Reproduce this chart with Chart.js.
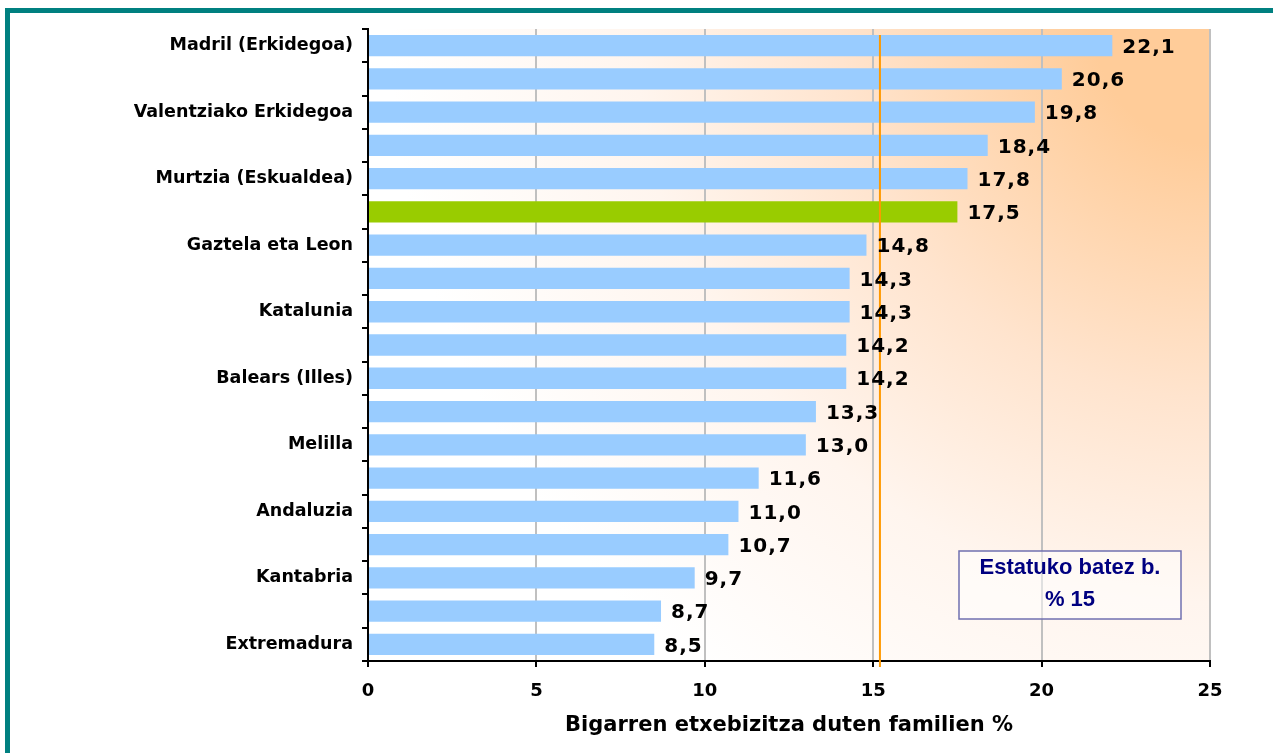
<!DOCTYPE html>
<html>
<head>
<meta charset="utf-8">
<script src="https://cdn.jsdelivr.net/npm/chart.js@4"></script>
<style>
    html, body { margin: 0; padding: 0; background: #fff; overflow: hidden; }
    #frame {
        position: absolute; left: 5px; top: 8px;
        width: 1400px; height: 900px;
        border: 5px solid #008080;
    }
    #wrap { position: absolute; left: 0; top: 0; width: 1273px; height: 753px; }
</style>
</head>
<body>
<div id="frame"></div>
<div id="wrap"><canvas id="chart-bigarren"></canvas></div>
<script>
const categories = [
    "Madril (Erkidegoa)", "", "Valentziako Erkidegoa", "", "Murtzia (Eskualdea)", "",
    "Gaztela eta Leon", "", "Katalunia", "", "Balears (Illes)", "", "Melilla", "",
    "Andaluzia", "", "Kantabria", "", "Extremadura"
];
const values = [22.1, 20.6, 19.8, 18.4, 17.8, 17.5, 14.8, 14.3, 14.3, 14.2, 14.2, 13.3, 13.0, 11.6, 11.0, 10.7, 9.7, 8.7, 8.5];
const highlightIndex = 5;
const meanValue = 15.2;
const xTicks = [0, 5, 10, 15, 20, 25];
const boxLines = ["Estatuko batez b.", "% 15"];

const blue = "#99CCFF";
const green = "#99CC00";

const barColors = values.map((v, i) => i === highlightIndex ? green : blue);

// fondo degradado del area del grafico
const backgroundPlugin = {
    id: "background",
    beforeDraw(chart) {
        const { ctx, chartArea: a } = chart;
        const g = ctx.createRadialGradient(a.right, a.top, 0, a.right, a.top, 820);
        g.addColorStop(0, "#FFCC99");
        g.addColorStop(0.14, "#FFCC99");
        g.addColorStop(0.45, "#FFE4CE");
        g.addColorStop(0.7, "#FFF5EE");
        g.addColorStop(1, "#FFFFFF");
        ctx.save();
        ctx.fillStyle = g;
        ctx.fillRect(a.left, a.top, a.right - a.left, a.bottom - a.top);
        ctx.restore();
    }
};

// linea de la media + etiquetas + caja
const overlayPlugin = {
    id: "overlay",
    afterDatasetsDraw(chart) {
        const { ctx, chartArea: a, scales } = chart;
        const x = scales.x.getPixelForValue(meanValue);
        ctx.save();
        ctx.strokeStyle = "#FF9900";
        ctx.lineWidth = 2;
        ctx.beginPath();
        ctx.moveTo(x, a.top + 6);
        ctx.lineTo(x, a.bottom + 6);
        ctx.stroke();

        ctx.fillStyle = "#000";
        ctx.font = "bold 20px 'DejaVu Sans'";
        ctx.textBaseline = "middle";
        ctx.textAlign = "left";
        ctx.letterSpacing = "1px";
        chart.getDatasetMeta(0).data.forEach((bar, i) => {
            ctx.fillText(values[i].toFixed(1).replace(".", ","), bar.x + 10, bar.y + 2);
        });
        ctx.letterSpacing = "0px";

        const bx = a.left + 591, by = a.bottom - 110, bw = 222, bh = 68;
        ctx.fillStyle = "rgba(255,255,255,0.5)";
        ctx.fillRect(bx, by, bw, bh);
        ctx.strokeStyle = "#7070B0";
        ctx.lineWidth = 1.5;
        ctx.strokeRect(bx, by, bw, bh);
        ctx.fillStyle = "#000080";
        ctx.font = "bold 22px 'Liberation Sans'";
        ctx.textAlign = "center";
        ctx.fillText(boxLines[0], bx + bw / 2, by + 17);
        ctx.fillText(boxLines[1], bx + bw / 2, by + 49);
        ctx.restore();
    }
};

new Chart(document.getElementById("chart-bigarren"), {
    type: "bar",
    data: {
        labels: categories,
        datasets: [{
            data: values,
            backgroundColor: barColors,
            borderWidth: 0,
            categoryPercentage: 1,
            barPercentage: 0.64,
        }],
    },
    options: {
        indexAxis: "y",
        responsive: true,
        maintainAspectRatio: false,
        animation: false,
        layout: { padding: { top: 29, right: 63, left: 0, bottom: 0 } },
        plugins: {
            legend: { display: false },
            tooltip: { enabled: false },
        },
        scales: {
            x: {
                min: 0,
                max: 25,
                afterBuildTicks(scale) {
                    scale.ticks = xTicks.map(v => ({ value: v }));
                },
                afterFit(scale) { scale.height = 92; },
                ticks: {
                    color: "#000",
                    font: { family: "DejaVu Sans", size: 18, weight: "bold" },
                    padding: 14,
                },
                grid: {
                    color: "#C0C0C0",
                    lineWidth: 2,
                    tickColor: "#000",
                    tickLength: 6,
                },
                border: { color: "#000", width: 2 },
                title: {
                    display: true,
                    text: "Bigarren etxebizitza duten familien %",
                    color: "#000",
                    font: { family: "DejaVu Sans", size: 21, weight: "bold" },
                    padding: { top: 0, bottom: 15 },
                },
            },
            y: {
                afterFit(scale) { scale.width = 368; },
                ticks: {
                    color: "#000",
                    autoSkip: false,
                    font: { family: "DejaVu Sans", size: 17.5, weight: "bold" },
                    padding: 9,
                },
                grid: {
                    drawOnChartArea: false,
                    tickColor: "#000",
                    tickLength: 6,
                    lineWidth: 2,
                },
                border: { color: "#000", width: 2 },
            },
        },
    },
    plugins: [backgroundPlugin, overlayPlugin],
});
</script>
</body>
</html>
